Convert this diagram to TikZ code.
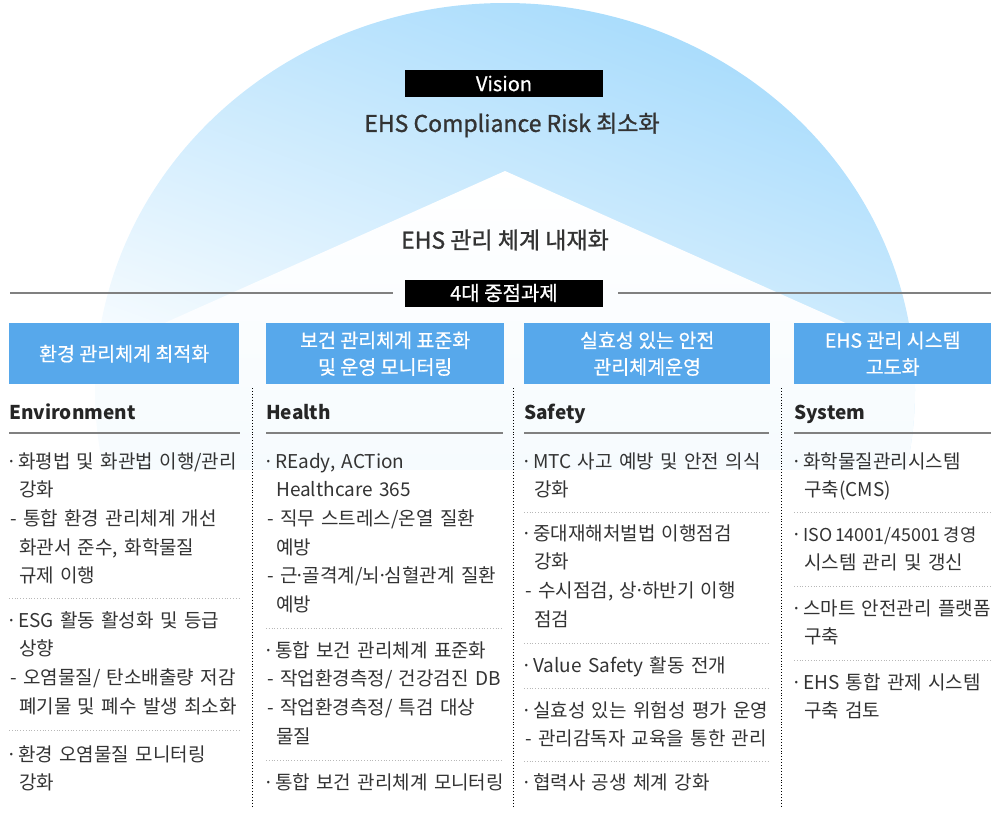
\documentclass[tikz,border=0pt]{standalone}
\usepackage{fontspec}
\setmainfont{Noto Sans CJK KR}
\newfontface\medfont{Noto Sans CJK KR}[FakeBold=0.6]
\newfontface\keyfont{Noto Sans CJK KR}[FakeBold=1.1]
\usetikzlibrary{positioning}
\definecolor{hdrblue}{RGB}{87,168,235}
\definecolor{dometop}{RGB}{164,218,252}
\definecolor{domemid}{RGB}{218,240,253}
\definecolor{domelow}{RGB}{246,251,254}
\definecolor{bodytext}{RGB}{51,51,51}
\newcommand\itind{\hspace*{9pt}}
\newcommand\bul{\hbox to 8pt{\hbox to 3pt{\hss·\hss}\hss}}
\newcommand\mdot{\hbox to 5pt{\hss·\hss}}
\newcommand\tight[1]{{\fontsize{17.8}{28.7}\selectfont\spaceskip=0.16em #1}}
\begin{document}
\begin{tikzpicture}[x=1pt,y=-1pt,
 header/.style={fill=hdrblue,text=white,anchor=north west,minimum height=61pt,inner sep=0pt,align=center,font=\medfont\fontsize{19.5}{26.7}\selectfont},
 blackbox/.style={fill=black,text=white,minimum width=198pt,minimum height=27pt,inner sep=0pt,font=\medfont\fontsize{20}{22}\selectfont},
 keytext/.style={text=bodytext,inner sep=0pt,font=\keyfont\fontsize{23}{27}\selectfont},
 coltitle/.style={anchor=base west,inner sep=0pt,text=black!85,font=\bfseries\fontsize{19}{23}\selectfont},
 item/.style={anchor=base west,inner sep=0pt,text width=270pt,align=left,text=bodytext,font=\fontsize{19}{28.7}\selectfont},
 titlerule/.style={draw=black!50,line width=1.2pt},
 midrule/.style={draw=black!50,line width=1.4pt},
 itemsep/.style={draw=black!28,dotted,line width=0.8pt},
 coldiv/.style={draw=black,dotted,line width=0.9pt}]
\useasboundingbox (0,0) rectangle (991,822);
% dome
\begin{scope}
 \clip (505,390) ellipse [x radius=410,y radius=387];
 \shade[top color=dometop,middle color=domemid,bottom color=white,shading angle=-20] (80,3) rectangle (930,470);
 \shade[top color=white,bottom color=domelow] (505,171) -- (1175,470) -- (-165,470) -- cycle;
 \fill[white] (-165,470) rectangle (1175,800);
\end{scope}
% vision part
\node[blackbox] (vision) at (504,83.5) {Vision};
\node[keytext] (risk) at (512,125) {EHS Compliance Risk 최소화};
\node[keytext] (embed) at (505,240) {EHS 관리 체계 내재화};
\node[blackbox] (tasks) at (504,293) {4대 중점과제};
\coordinate (lineL) at (10,293);
\coordinate (lineR) at (991,293);
\draw[midrule] (lineL) -- ([xshift=-12pt]tasks.west);
\draw[midrule] ([xshift=15pt]tasks.east) -- (lineR);
% headers
\node[header,minimum width=230pt] (envhead) at (9,323) {환경 관리체계 최적화};
\node[header,minimum width=238pt] (healthhead) at (266,323) {보건 관리체계 표준화\\및 운영 모니터링};
\node[header,minimum width=246pt] (safetyhead) at (524,323) {실효성 있는 안전\\관리체계운영};
\node[header,minimum width=197pt] (syshead) at (794,323) {EHS 관리 시스템\\고도화};
% column titles
\node[coltitle] (envtitle) at (9,419) {Environment};
\node[coltitle] (healthtitle) at (266,419) {Health};
\node[coltitle] (safetytitle) at (524,419) {Safety};
\node[coltitle] (systitle) at (794,419) {System};
\draw[titlerule] (9,433) -- (240,433);
\draw[titlerule] (266,433) -- (503,433);
\draw[titlerule] (524,433) -- (769,433);
\draw[titlerule] (794,433) -- (991,433);
% column dividers
\foreach \x in {252.5,513,781.5}
  \draw[coldiv] (\x,388) -- (\x,806);
% environment
\node[item] (env1) at (10,468) {\bul 화평법 및 화관법 이행/관리\\\itind 강화\\- 통합 환경 관리체계 개선\\\itind 화관서 준수, 화학물질\\\itind 규제 이행};
\node[item] (env2) at (10,627) {\bul ESG 활동 활성화 및 등급\\\itind 상향\\- 오염물질/ 탄소배출량 저감\\\itind 폐기물 및 폐수 발생 최소화};
\node[item] (env3) at (10,761) {\bul 환경 오염물질 모니터링\\\itind 강화};
\foreach \y in {598.5,730.5}
  \draw[itemsep] (9,\y) -- (240,\y);
% health
\node[item] (health1) at (267,468) {\bul REady, ACTion\\\itind Healthcare 365\\- 직무 스트레스/온열 질환\\\itind 예방\\- 근\mdot 골격계/뇌\mdot 심혈관계 질환\\\itind 예방};
\node[item] (health2) at (267,657) {\bul 통합 보건 관리체계 표준화\\- 작업환경측정/ 건강검진 DB\\- 작업환경측정/ 특검 대상\\\itind 물질};
\node[item] (health3) at (267,789) {\bul 통합 보건 관리체계 모니터링};
\foreach \y in {628,760}
  \draw[itemsep] (266,\y) -- (503,\y);
% safety
\node[item] (safety1) at (525,468) {\bul MTC 사고 예방 및 안전 의식\\\itind 강화};
\node[item] (safety2) at (525,540) {\bul 중대재해처벌법 이행점검\\\itind 강화\\- 수시점검, 상\mdot 하반기 이행\\\itind 점검};
\node[item] (safety3) at (525,672) {\bul Value Safety 활동 전개};
\node[item] (safety4) at (525,717) {\bul 실효성 있는 위험성 평가 운영\\- 관리감독자 교육을 통한 관리};
\node[item] (safety5) at (525,789) {\bul 협력사 공생 체계 강화};
\foreach \y in {512,643,688,761}
  \draw[itemsep] (524,\y) -- (769,\y);
% system
\node[item] (sys1) at (795,468) {\bul 화학물질관리시스템\\\itind 구축(CMS)};
\node[item] (sys2) at (795,541) {\bul \tight{ISO 14001/45001 경영}\\\itind 시스템 관리 및 갱신};
\node[item] (sys3) at (795,615) {\bul 스마트 안전관리 플랫폼\\\itind 구축};
\node[item] (sys4) at (795,689) {\bul EHS 통합 관제 시스템\\\itind 구축 검토};
\foreach \y in {512,586,660}
  \draw[itemsep] (794,\y) -- (991,\y);
\end{tikzpicture}
\end{document}
